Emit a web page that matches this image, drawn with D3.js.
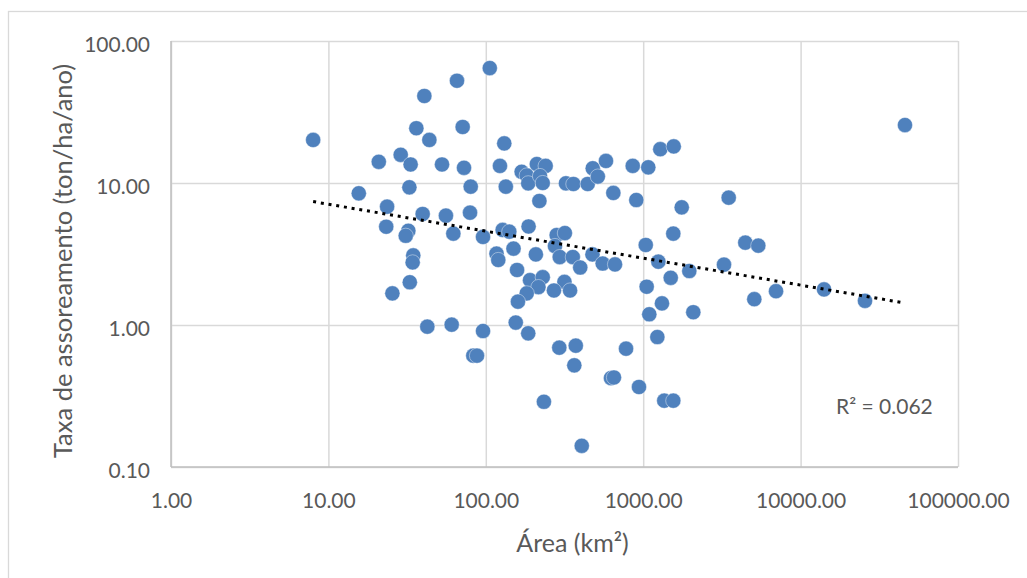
<!DOCTYPE html>
<html>
<head>
<meta charset="utf-8">
<script src="https://cdn.jsdelivr.net/npm/d3@7"></script>
<style>
	body { margin: 0; background: #fff; }
	svg { display: block; font-family: Lato, 'Noto Sans', sans-serif; }
</style>
</head>
<body>
<svg id="chart" width="1027" height="578"></svg>
<script>
// area of each basin (km²) and its siltation rate (ton/ha/ano)
const area = [
	8.0, 40.7, 65.6, 106, 36.2, 71.3, 43.8, 28.8, 20.9, 33.3,
	52.7, 72.7, 32.7, 80.2, 15.6, 23.6, 39.7, 55.8, 79.4, 23.3,
	32.2, 31.0, 62.2, 96.0, 34.6, 34.3, 32.9, 25.5, 42.5, 60.7,
	96.0, 83.3, 87.9, 131, 123, 134, 169, 182, 186, 211,
	240, 221, 230, 219, 323, 360, 444, 478, 515, 580,
	646, 858, 1077, 904, 1284, 1563, 1757, 3493, 1553, 1038,
	4454, 5385, 128, 141, 187, 282, 318, 275, 117, 120,
	150, 208, 295, 357, 476, 398, 553, 662, 158, 191,
	230, 216, 316, 271, 343, 182, 160, 155, 186, 293,
	373, 365, 778, 1230, 624, 652, 940, 1361, 1553, 234,
	407, 1052, 1248, 1496, 1963, 3260, 1316, 2081, 1093, 5080,
	6980, 14090, 25650, 46030
]
const taxa = [
	20.1, 41.0, 52.5, 64.5, 24.3, 24.8, 20.1, 15.8, 14.1, 13.5,
	13.5, 12.8, 9.33, 9.42, 8.46, 6.81, 6.05, 5.89, 6.18, 4.92,
	4.61, 4.25, 4.40, 4.17, 3.09, 2.76, 2.00, 1.67, 0.973, 1.005,
	0.907, 0.608, 0.608, 19.0, 13.2, 9.42, 12.0, 11.3, 9.95, 13.6,
	13.2, 11.2, 10.0, 7.47, 9.95, 9.84, 9.84, 12.7, 11.1, 14.3,
	8.51, 13.2, 12.9, 7.59, 17.3, 18.1, 6.74, 7.88, 4.40, 3.66,
	3.80, 3.62, 4.67, 4.54, 4.94, 4.30, 4.44, 3.60, 3.18, 2.87,
	3.45, 3.14, 3.01, 3.01, 3.14, 2.54, 2.71, 2.67, 2.44, 2.07,
	2.17, 1.85, 2.01, 1.75, 1.75, 1.67, 1.46, 1.04, 0.874, 0.692,
	0.715, 0.520, 0.681, 0.823, 0.423, 0.427, 0.366, 0.293, 0.293, 0.288,
	0.141, 1.86, 2.79, 2.15, 2.40, 2.66, 1.42, 1.23, 1.19, 1.52,
	1.73, 1.78, 1.48, 25.6
]
const xTicks = [1, 10, 100, 1000, 10000, 100000]
const yTicks = [0.1, 1, 10, 100]
const r2Label = 'R² = 0.062'
const xTitle = 'Área (km²)'
const yTitle = 'Taxa de assoreamento (ton/ha/ano)'

const data = area.map((a, i) => ({ area: a, taxa: taxa[i] }))

const svg = d3.select('#chart')
const plotLeft = 171
const plotRight = 958
const plotTop = 41
const plotBottom = 467
const dotColor = '#4f81bd'
const gridColor = '#d9d9d9'
const axisColor = '#bfbfbf'
const textColor = '#595959'

const xScale = d3.scaleLog()
	.domain([1, 100000])
	.range([plotLeft, plotRight])

const yScale = d3.scaleLog()
	.domain([0.1, 100])
	.range([plotBottom, plotTop])

// outer chart border
svg.append('rect')
	.attr('x', 8.5)
	.attr('y', 11.5)
	.attr('width', 1100)
	.attr('height', 700)
	.attr('fill', 'none')
	.style('stroke', gridColor)
	.style('stroke-width', 1.3)

// gridlines
const xAxis = d3.axisBottom(xScale)
	.tickValues(xTicks)
	.tickSize(-(plotBottom - plotTop))
	.tickPadding(26)
	.tickFormat(d3.format('.2f'))

const yAxis = d3.axisLeft(yScale)
	.tickValues(yTicks)
	.tickSize(-(plotRight - plotLeft))
	.tickPadding(21)
	.tickFormat(d3.format('.2f'))

const gx = svg.append('g')
	.attr('transform', `translate(0, ${plotBottom})`)
	.call(xAxis)

const gy = svg.append('g')
	.attr('transform', `translate(${plotLeft}, 0)`)
	.call(yAxis)

svg.selectAll('path.domain').remove()

svg.selectAll('.tick line')
	.style('stroke', gridColor)
	.style('stroke-width', 1.5)

svg.selectAll('.tick text')
	.style('fill', textColor)
	.style('font-family', 'Lato')
	.style('font-size', '21px')

gy.selectAll('.tick text')
	.attr('dy', '0.5em')

// axis lines
svg.append('line')
	.attr('x1', plotLeft)
	.attr('x2', plotLeft)
	.attr('y1', plotTop)
	.attr('y2', plotBottom)
	.style('stroke', axisColor)
	.style('stroke-width', 1.5)

svg.append('line')
	.attr('x1', plotLeft)
	.attr('x2', plotRight)
	.attr('y1', plotBottom)
	.attr('y2', plotBottom)
	.style('stroke', axisColor)
	.style('stroke-width', 1.5)

// points
svg.append('g')
	.selectAll('circle')
	.data(data)
	.enter()
	.append('circle')
		.attr('cx', d => xScale(d.area))
		.attr('cy', d => yScale(d.taxa))
		.attr('r', 7.6)
		.attr('fill', dotColor)
		.style('stroke', '#fff')
		.style('stroke-width', 0.6)
		.style('stroke-opacity', 0.7)

// power trendline: least squares on log10 values
const lx = data.map(d => Math.log10(d.area))
const ly = data.map(d => Math.log10(d.taxa))
const mx = d3.mean(lx)
const my = d3.mean(ly)
const slope = d3.sum(lx, (v, i) => (v - mx) * (ly[i] - my)) / d3.sum(lx, v => (v - mx) * (v - mx))
const intercept = my - slope * mx
const trend = d3.extent(area).map(a => ({ area: a, taxa: Math.pow(10, intercept + slope * Math.log10(a)) }))

const line = d3.line()
	.x(d => xScale(d.area))
	.y(d => yScale(d.taxa))

svg.append('path')
	.attr('d', line(trend))
	.attr('fill', 'none')
	.style('stroke', '#000')
	.style('stroke-width', 3)
	.style('stroke-dasharray', '3 4.8')

svg.append('text')
	.attr('x', 836)
	.attr('y', 414)
	.text(r2Label)
	.style('fill', textColor)
	.style('font-size', '21px')

// axis titles
svg.append('text')
	.attr('x', (plotLeft + plotRight) / 2 + 8)
	.attr('y', 552)
	.attr('text-anchor', 'middle')
	.text(xTitle)
	.style('fill', textColor)
	.style('font-size', '25px')

svg.append('text')
	.attr('transform', `translate(72, ${(plotTop + plotBottom) / 2 + 7}) rotate(-90)`)
	.attr('text-anchor', 'middle')
	.text(yTitle)
	.style('fill', textColor)
	.style('font-size', '25.5px')
</script>
</body>
</html>
